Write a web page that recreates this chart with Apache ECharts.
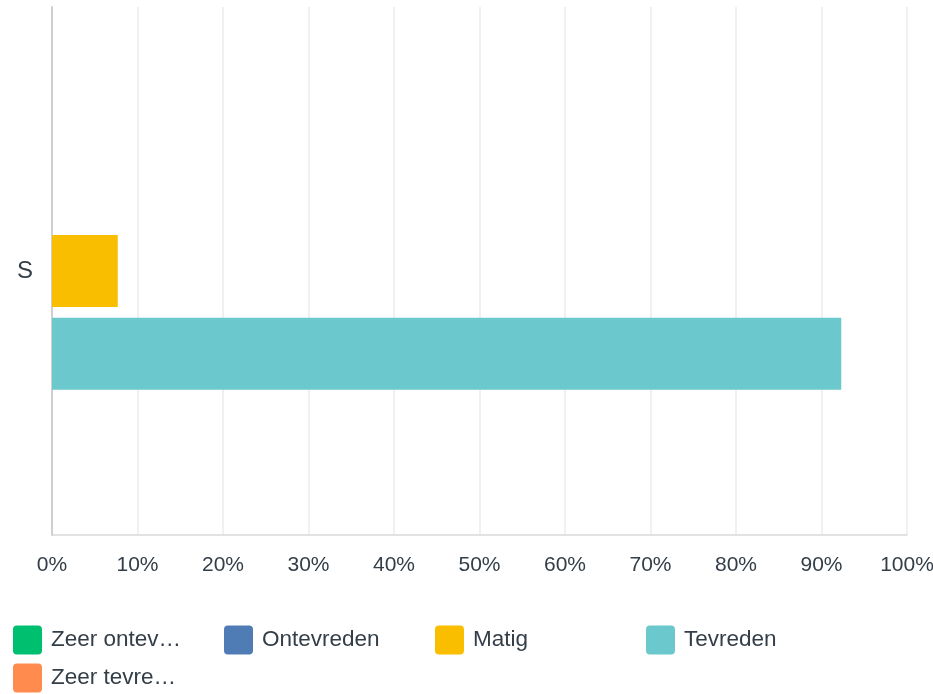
<!DOCTYPE html>
<html>
<head>
<meta charset="utf-8">
<script src="https://cdn.jsdelivr.net/npm/echarts@6/dist/echarts.min.js"></script>
<style>html,body{margin:0;padding:0;background:#fff}#c{width:933px;height:694px}</style>
</head>
<body>
<div id="c"></div>
<script>
const categories = ['S'];
const seriesNames = ['Zeer ontevreden', 'Ontevreden', 'Matig', 'Tevreden', 'Zeer tevreden'];
const seriesValues = [[0], [0], [7.69], [92.31], [0]];
const seriesColors = ['#00bf6f', '#507cb6', '#f9be00', '#6bc8cd', '#ff8b4f'];
const tickValues = [0, 10, 20, 30, 40, 50, 60, 70, 80, 90, 100];

const FONT = '"Liberation Sans", Arial, sans-serif';
const TXT = '#333e48';
const legendPos = [[13, 625], [224, 625], [435, 625], [646, 625], [13, 663]];

const chart = echarts.init(document.getElementById('c'), null, {renderer: 'canvas'});
chart.setOption({
  animation: false,
  grid: {left: 52, right: 26, top: 7, bottom: 159, containLabel: false, outerBoundsMode: 'none'},
  xAxis: {
    type: 'value', min: tickValues[0], max: tickValues[tickValues.length - 1], interval: 10,
    axisLine: {show: true, lineStyle: {color: '#d9d9d9', width: 1.5}},
    axisTick: {show: false},
    splitLine: {show: true, lineStyle: {color: '#ebebeb', width: 1.5}},
    axisLabel: {color: TXT, fontFamily: FONT, fontSize: 21, margin: 20, formatter: v => v + '%'}
  },
  yAxis: {
    type: 'category', data: categories, inverse: true,
    axisLine: {show: true, lineStyle: {color: '#cfcfcf', width: 2}},
    axisTick: {show: false},
    axisLabel: {color: TXT, fontFamily: FONT, fontSize: 24, margin: 19}
  },
  legend: seriesNames.map((n, i) => ({
    left: legendPos[i][0], top: legendPos[i][1], padding: 0,
    itemWidth: 29, itemHeight: 29,
    icon: 'path://M4,0 L25,0 Q29,0 29,4 L29,25 Q29,29 25,29 L4,29 Q0,29 0,25 L0,4 Q0,0 4,0 Z',
    selectedMode: false,
    textStyle: {color: TXT, fontFamily: FONT, fontSize: 22.5, width: 132, overflow: 'truncate', ellipsis: '…', lineHeight: 24, padding: [6, 0, 0, 4]},
    data: [n]
  })),
  series: seriesNames.map((n, i) => ({
    name: n, type: 'bar', data: seriesValues[i],
    barWidth: 72, barGap: '15%',
    itemStyle: {color: seriesColors[i]}
  }))
});
</script>
</body>
</html>
